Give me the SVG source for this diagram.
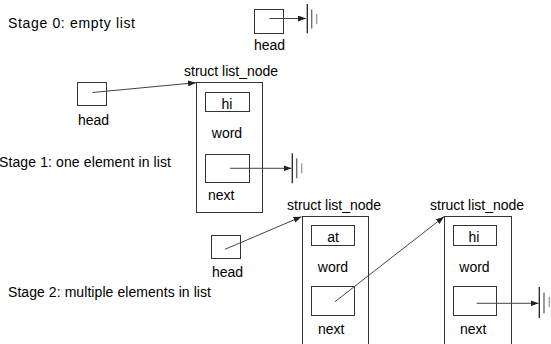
<svg xmlns="http://www.w3.org/2000/svg" width="551" height="344" viewBox="0 0 551 344">
<style>
text{font-family:"Liberation Sans",Arial,sans-serif;font-size:14px;fill:#000}
.c{text-anchor:middle}
.box{fill:#fff;stroke:#333;stroke-width:1}
.ln{stroke:#444;stroke-width:1;fill:none}
.g1{stroke:#222;stroke-width:1.3}
.g2{stroke:#666;stroke-width:1.3}
.g3{stroke:#999;stroke-width:1.3}
</style>
<defs>
<marker id="ah" viewBox="0 0 8 6" refX="8" refY="3" markerWidth="8" markerHeight="6" markerUnits="userSpaceOnUse" orient="auto">
<path d="M0,0 L8,3 L0,6 z" fill="#222"/>
</marker>
</defs>

<text x="8" y="28" textLength="127" lengthAdjust="spacing">Stage 0: empty list</text>
<text x="-1" y="167" textLength="172" lengthAdjust="spacing">Stage 1: one element in list</text>
<text x="8" y="297" textLength="203" lengthAdjust="spacing">Stage 2: multiple elements in list</text>

<g id="head0">
<rect class="box" x="254.5" y="9.5" width="29" height="24"/>
<text x="254" y="50">head</text>
</g>
<g id="ground0">
<line class="g1" x1="307.3" y1="4" x2="307.3" y2="33.3"/>
<line class="g2" x1="311.7" y1="9.5" x2="311.7" y2="28.5"/>
<line class="g3" x1="316.7" y1="14" x2="316.7" y2="24"/>
</g>

<g id="head1">
<rect class="box" x="77.5" y="82.5" width="29" height="23"/>
<text x="78" y="125">head</text>
</g>
<g id="node1">
<text x="184" y="76">struct list_node</text>
<rect class="box" x="196.5" y="82.5" width="66" height="130"/>
<rect class="box" x="205.5" y="92.5" width="44" height="19"/>
<text class="c" x="227" y="109">hi</text>
<text class="c" x="227" y="138">word</text>
<rect class="box" x="205.5" y="154.5" width="44" height="28"/>
<text x="208" y="200">next</text>
</g>
<g id="ground1">
<line class="g1" x1="292.3" y1="153.3" x2="292.3" y2="183.3"/>
<line class="g2" x1="296.7" y1="158.3" x2="296.7" y2="178.3"/>
<line class="g3" x1="301.7" y1="163.5" x2="301.7" y2="173.5"/>
</g>

<g id="head2">
<rect class="box" x="211.5" y="235.5" width="29" height="23"/>
<text x="212" y="277">head</text>
</g>
<g id="node2">
<text x="287" y="210">struct list_node</text>
<rect class="box" x="302.5" y="216.5" width="66" height="140"/>
<rect class="box" x="311.5" y="225.5" width="43" height="20"/>
<text class="c" x="333" y="242">at</text>
<text class="c" x="333" y="271.5">word</text>
<rect class="box" x="311.5" y="286.5" width="43" height="29"/>
<text x="318" y="334">next</text>
</g>
<g id="node3">
<text x="430" y="210">struct list_node</text>
<rect class="box" x="444.5" y="216.5" width="67" height="140"/>
<rect class="box" x="453.5" y="225.5" width="43" height="20"/>
<text class="c" x="474" y="242">hi</text>
<text class="c" x="474.5" y="271.5">word</text>
<rect class="box" x="453.5" y="286.5" width="43" height="29"/>
<text x="460" y="334">next</text>
</g>
<g id="ground2">
<line class="g1" x1="539.3" y1="287" x2="539.3" y2="318"/>
<line class="g2" x1="544" y1="292.5" x2="544" y2="313.5"/>
<line class="g3" x1="549.3" y1="297" x2="549.3" y2="307"/>
</g>

<g id="connectors">
<line class="ln" x1="269.3" y1="18.5" x2="306" y2="18.5" marker-end="url(#ah)"/>
<line class="ln" x1="92.5" y1="92.5" x2="196" y2="82.7" marker-end="url(#ah)"/>
<line class="ln" x1="230" y1="168.3" x2="291.5" y2="168.3" marker-end="url(#ah)"/>
<line class="ln" x1="225" y1="249.3" x2="301.5" y2="216.7" marker-end="url(#ah)"/>
<line class="ln" x1="335" y1="301.7" x2="444" y2="216.7" marker-end="url(#ah)"/>
<line class="ln" x1="476.7" y1="303.3" x2="538.5" y2="303.3" marker-end="url(#ah)"/>
</g>
</svg>
